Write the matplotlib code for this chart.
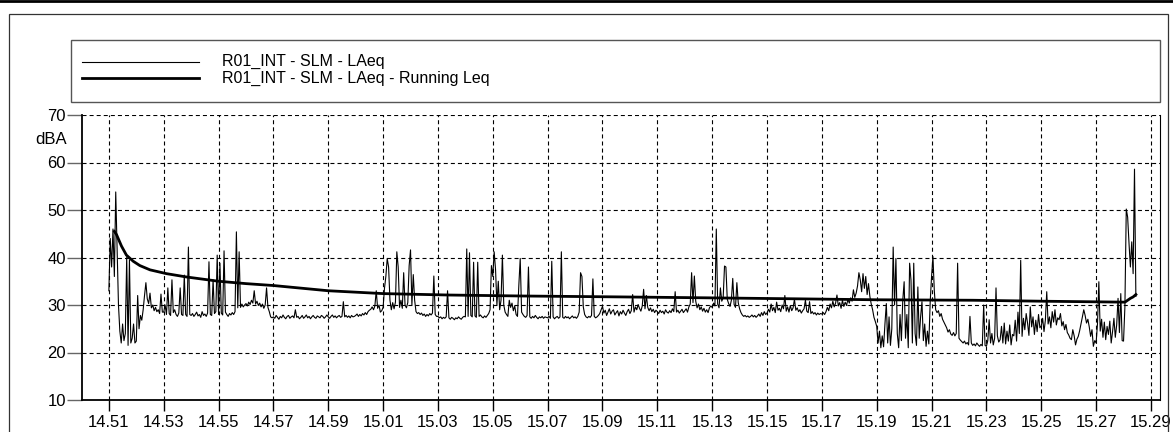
import matplotlib
matplotlib.use("Agg")
import matplotlib.pyplot as plt
from matplotlib.lines import Line2D
from matplotlib.patches import Rectangle
import numpy as np

# ---------------- data ----------------
# LAeq samples every 3 s starting 14:51:00 (one row per minute)
laeq = [
    33, 44, 38, 46, 36, 53.8, 42, 30, 24.5, 22, 26, 22.5, 24, 40, 21.5, 39.5, 22, 23, 26, 22,
    22.4, 32, 25, 27.8, 26.8, 29, 32, 34.7, 31.3, 30.3, 32.5, 29.4, 30, 28.8, 29.5, 28.6, 29, 28.2, 32.3, 28.5,
    28.5, 30, 28, 33.6, 28.2, 27.8, 35.3, 28.4, 29, 28, 27.6, 28.3, 33.6, 28, 27.8, 36.3, 28, 27.6, 42.2, 28,
    27.8, 28.2, 27.6, 28, 28.5, 27.7, 28, 27.4, 28.6, 27.8, 28.1, 27.6, 28.3, 39.1, 28, 27.8, 35.3, 28.2, 28.6, 40.5,
    28, 38.8, 28.3, 27.9, 41.4, 28.5, 28, 27.6, 28.2, 27.9, 28.4, 28, 28.6, 45.4, 29.4, 41.2, 29.5, 30.2, 29.6, 30,
    30.3, 29.8, 30.6, 30.1, 31, 30.4, 33, 30.2, 30.8, 29.9, 30.4, 29.6, 30.2, 29.3, 30, 33.6, 29.5, 28.6, 27.5, 27.3,
    27.5, 27.2, 27.8, 27.4, 27.0, 27.6, 27.3, 27.9, 27.4, 27.1, 27.6, 27.8, 27.2, 27.5, 27.7, 27.3, 29.0, 27.4, 27.6, 27.1,
    27.4, 27.8, 27.2, 27.5, 27.9, 27.3, 27.6, 27.1, 27.5, 27.8, 27.4, 27.2, 27.7, 27.5, 27.3, 27.8, 27.6, 27.2, 27.5, 27.9,
    27.5, 27.2, 27.6, 27.9, 27.4, 27.7, 27.3, 27.6, 27.8, 27.4, 27.6, 30.7, 27.5, 27.8, 27.4, 27.7, 27.3, 27.8, 27.5, 27.6,
    27.8, 28.1, 27.6, 28.0, 27.7, 28.2, 27.9, 28.4, 28.0, 28.6, 28.9, 29.1, 29.6, 29.0, 29.8, 33.0, 29.3, 30.0, 28.5, 28.8,
    29.5, 33.5, 36, 39.8, 38, 31, 29, 30.5, 29.2, 30.6, 41.2, 38, 29.5, 31, 29.3, 36.8, 30, 29.4, 30.5, 38.3,
    41.6, 30, 36.4, 31, 28.6, 28.2, 28.4, 28, 28.3, 27.8, 28.1, 27.6, 28, 27.7, 28.2, 27.9, 28.3, 36.1, 28, 27.6,
    27.6, 27.3, 27.5, 27.1, 27.4, 27.2, 27.5, 33.0, 27.3, 27.0, 27.4, 27.2, 26.9, 27.3, 27.1, 27.5, 27.2, 27.0, 27.4, 27.6,
    27.5, 41.8, 27.6, 41.0, 27.8, 27.5, 39.0, 27.7, 27.4, 39.0, 27.6, 27.9, 27.5, 27.3, 27.7, 27.4, 27.8, 28.2, 29.0, 38.3,
    36, 41.2, 37.5, 30, 35, 29, 31, 40.5, 30, 28.5, 28, 27.6, 31, 29.5, 30.4, 28.8, 29.8, 28, 27.6, 34.2,
    39.8, 28.5, 28, 27.6, 27.4, 27.8, 38, 27.5, 27.2, 27.6, 27.3, 27.8, 27.4, 27.1, 27.5, 27.3, 27.6, 27.2, 27.5, 27.4,
    27.3, 27.6, 27.2, 39.2, 27.5, 27.1, 27.4, 27.6, 27.2, 27.5, 41.2, 27.4, 27.2, 27.6, 27.3, 27.5, 27.1, 27.4, 27.7, 27.3,
    27.5, 27.2, 27.6, 28.5, 36.8, 36, 29.6, 28, 27.5, 27.3, 27.6, 27.4, 27.8, 35.5, 27.6, 27.3, 27.5, 27.8, 28.2, 29.0,
    29.7, 28.3, 28.9, 27.8, 28.5, 29.2, 28.1, 28.7, 29.0, 27.9, 28.4, 28.8, 27.7, 28.6, 28.1, 28.9, 28.3, 27.8, 28.6, 29.1,
    28.2, 28.8, 32.2, 28.5, 29.6, 29.0, 30.1, 29.3, 28.7, 29.8, 33.3, 29.2, 32.0, 29.5, 28.8, 29.4, 28.6, 29.1, 28.4, 28.9,
    28.6, 28.2, 28.9, 28.4, 28.7, 28.1, 29.0, 28.5, 28.3, 28.8, 28.4, 29.2, 28.6, 32.8, 28.5, 28.9, 28.3, 28.7, 29.1, 28.4,
    28.8, 29.2, 28.5, 29.6, 30.2, 36.8, 30.5, 36.1, 30.8, 29.4, 30.2, 29.0, 29.6, 28.7, 29.3, 28.5, 29.0, 28.4, 29.4, 29.8,
    29.5, 30.4, 29.8, 46.0, 30.2, 29.4, 33.6, 30.8, 31.5, 38.2, 38.0, 31.2, 30.3, 29.7, 31.0, 35.6, 30.1, 29.5, 34.7, 30.5,
    29.2, 28.4, 27.9, 27.6, 27.8, 27.5, 27.7, 27.4, 27.6, 27.9, 27.5, 27.8, 27.4, 27.7, 28.1, 27.6, 28.4, 27.8, 28.6, 28.0,
    28.3, 29.1, 28.5, 30.2, 28.8, 29.5, 28.4, 30.6, 28.9, 29.3, 28.6, 30.0, 29.2, 32.0, 28.7, 29.6, 28.5, 29.9, 28.8, 29.4,
    31.2, 28.9, 29.4, 28.6, 29.0, 28.3, 28.8, 29.2, 31.0, 28.7, 28.4, 30.7, 28.2, 28.6, 28.1, 28.4, 27.9, 28.3, 28.0, 28.2,
    28.1, 28.4, 28.0, 28.6, 29.5, 28.8, 30.2, 29.4, 30.8, 29.6, 30.4, 32.1, 29.8, 30.5, 29.3, 31.0, 29.7, 30.6, 29.9, 31.2,
    30.4, 31.5, 30.8, 33.2, 31.6, 32.5, 34.0, 36.8, 35.3, 32.8, 36.6, 33.5, 36.0, 32.2, 34.5, 31.8, 30.2, 29.0, 27.4, 26.5,
    25.5, 22, 24.5, 21, 23.5, 21.2, 26, 30.3, 22, 27.5, 21.5, 25, 42.2, 30, 39.8, 24, 21, 28, 22.5, 31,
    34.9, 23, 28, 21, 38.8, 35.2, 22, 38.8, 24, 21.5, 33.8, 23, 27.5, 30.7, 22.5, 26, 21.3, 24.5, 21.8, 30.7,
    36, 40.2, 33, 29, 28.4, 28.8, 27.6, 28.2, 27, 26.4, 25.8, 25.2, 24.3, 24.8, 23.9, 23.6, 24.2, 23.5, 24, 38.8,
    23, 22.6, 22.3, 22, 22.4, 21.8, 22.1, 21.6, 27.6, 22, 21.5, 21.8, 21.4, 22, 21.6, 21.3, 21.7, 21.4, 30.0, 21.5,
    21.3, 22.5, 26.9, 22, 24, 21.6, 23, 33.6, 23.5, 22.2, 22.7, 25.5, 22, 26.2, 21.8, 24.5, 22.4, 25.8, 21.6, 23.8,
    23.5, 26.8, 22.4, 28.5, 24, 39.4, 23.4, 27.2, 24.8, 28.2, 26.2, 23.6, 29.6, 25.4, 27.5, 23.8, 26.8, 24.4, 28, 25.2,
    25.6, 27.2, 24.4, 26.8, 32.8, 26, 27.5, 25.2, 28.6, 26.4, 29.0, 25.8, 27.3, 26.9, 28.2, 25.6, 26.5, 24.8, 25.9, 24.2,
    23.7, 23, 22.7, 24.8, 23.5, 21.6, 22.8, 23.4, 24.6, 26, 27.5, 29, 27.8, 26.2, 27, 25.4, 23.4, 24.8, 21.3, 22.5,
    22, 26, 34.9, 24.5, 27, 23.2, 26.4, 22.7, 25.5, 23.8, 26.6, 22, 24.4, 27.2, 23.2, 25.8, 31.4, 24.2, 32.4, 22.5,
    22.4, 29.6, 50.2, 48.5, 43, 38, 43.3, 36.6, 58.6, 31.8,
]
sample_step_min = 0.05  # 3 seconds

# Running Leq (minutes after 14:51, dBA)
rleq_t = [0.2, 0.28, 0.34, 0.46, 0.64, 0.89, 1.13, 1.5, 2.1, 2.83, 4.0, 5.0, 6.0,
          8.0, 10.0, 12.4, 15.0, 18.7, 22.0, 25.1, 28.0, 31.5, 34.0, 37.05,
          37.15, 37.25, 37.35, 37.45]
rleq = [45.5, 44.8, 44.0, 42.4, 40.5, 39.2, 38.3, 37.4, 36.6, 35.9, 35.0, 34.5, 34.1,
        33.0, 32.4, 32.1, 31.9, 31.7, 31.5, 31.3, 31.1, 31.0, 30.8, 30.6,
        31.0, 31.4, 31.7, 32.2]

x_tick_pos = list(range(0, 39, 2))
x_tick_labels = ["14.51", "14.53", "14.55", "14.57", "14.59", "15.01", "15.03",
                 "15.05", "15.07", "15.09", "15.11", "15.13", "15.15", "15.17",
                 "15.19", "15.21", "15.23", "15.25", "15.27", "15.29"]
y_ticks = [10, 20, 30, 40, 50, 60, 70]
series_names = ["R01_INT - SLM - LAeq", "R01_INT - SLM - LAeq - Running Leq"]
y_unit = "dBA"

# ---------------- figure ----------------
W, H = 1173, 432
plt.rcParams['font.family'] = ['Liberation Sans', 'DejaVu Sans']
plt.rcParams['lines.scale_dashes'] = False

fig = plt.figure(figsize=(W / 100, H / 100), dpi=100)
fig.patch.set_facecolor('white')

# outer decorations
fig.add_artist(Line2D([0, 1], [1 - 1.3 / H] * 2, transform=fig.transFigure,
                      color='black', lw=2.0))
fig.add_artist(Rectangle((9 / W, -0.05), (1168 - 9) / W, 1.05 - 14 / H,
                         transform=fig.transFigure, fill=False,
                         edgecolor='#333333', lw=0.9))

ax = fig.add_axes([82 / W, 1 - 400 / H, (1160 - 82) / W, (400 - 115) / H])
t = np.arange(len(laeq)) * sample_step_min
ax.plot(t, laeq, color='black', lw=0.8, zorder=3)
ax.plot(rleq_t, rleq, color='black', lw=2.0, zorder=4)

ax.set_xlim(-0.98, 38.33)
ax.set_ylim(10, 70)
ax.set_xticks(x_tick_pos)
ax.set_xticklabels(x_tick_labels)
ax.set_yticks(y_ticks)
ax.grid(True, color='black', linestyle=(0, (2.9, 2.2)), linewidth=0.8, zorder=1)
ax.set_axisbelow(True)

ax.spines['top'].set_visible(False)
ax.spines['right'].set_linewidth(0.8)
ax.spines['left'].set_linewidth(1.3)
ax.spines['bottom'].set_linewidth(1.3)
ax.tick_params(axis='y', length=11, width=1.0, color='#666666', pad=0.5,
               labelsize=12)
ax.tick_params(axis='x', length=8, width=1.0, color='black', pad=3,
               labelsize=12)

fig.text(67 / W, 1 - 140 / H, y_unit, ha='right', va='center', fontsize=12)

# legend box
lax = fig.add_axes([71 / W, 1 - 102 / H, (1160 - 71) / W, 62 / H])
lax.set_xlim(0, 1160 - 71)
lax.set_ylim(62, 0)
lax.axis('off')
lax.add_patch(Rectangle((0, 0), 1160 - 71, 62, fill=False,
                        edgecolor='#555555', lw=1.0, clip_on=False))
for yy, lw, name in zip([21.5, 38], [0.8, 2.0], series_names):
    lax.add_line(Line2D([11, 128], [yy, yy], color='black', lw=lw))
    lax.text(151, yy, name, ha='left', va='center', fontsize=11.5)

fig.savefig("out.png", dpi=100)
